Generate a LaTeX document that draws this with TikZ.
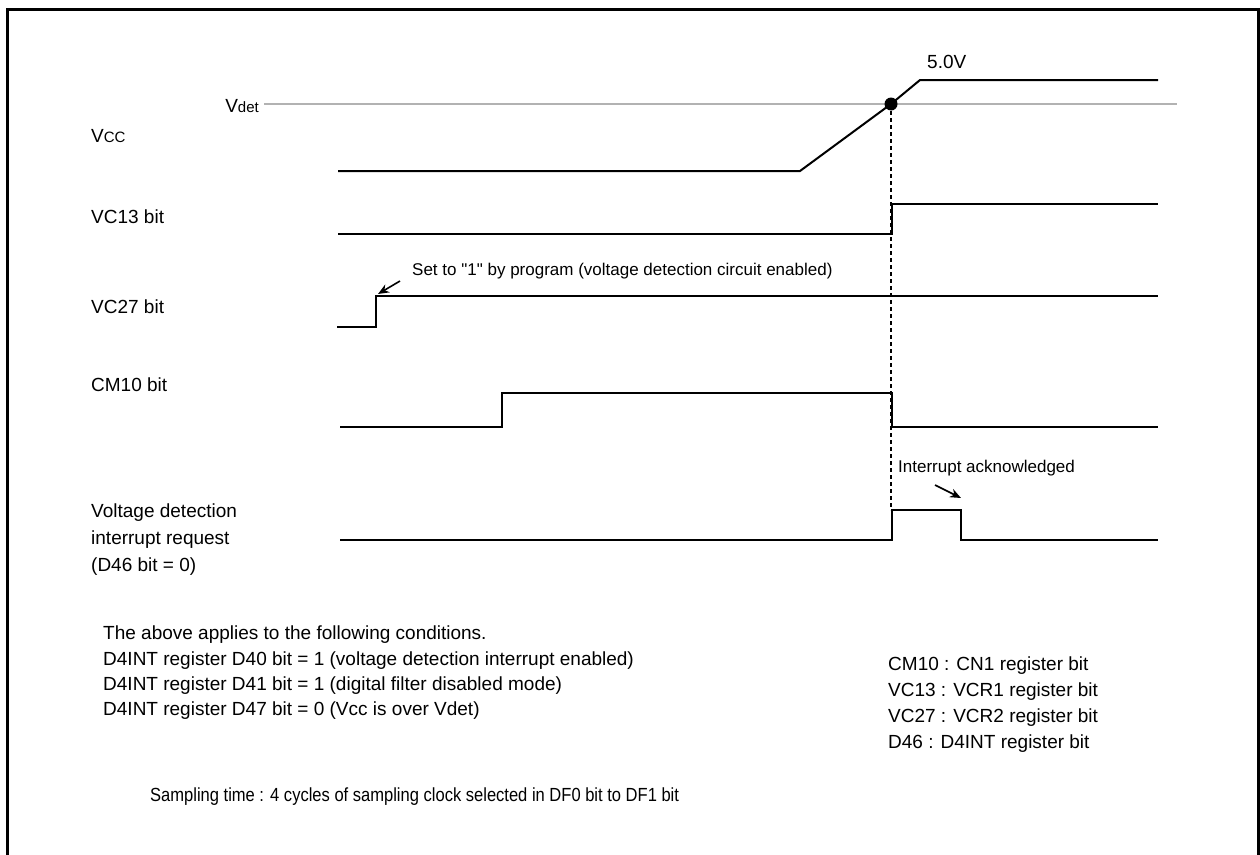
\documentclass[tikz,border=0pt]{standalone}
\usepackage{fontspec}
\setmainfont{Liberation Sans}
\usetikzlibrary{arrows.meta}
\begin{document}
\begin{tikzpicture}[x=1pt,y=-1pt,
  wave/.style={line width=2pt, line join=miter},
  lbl/.style={anchor=base west, inner sep=0pt, font=\fontsize{19}{22}\selectfont},
  note/.style={anchor=base west, inner sep=0pt, font=\fontsize{17}{19}\selectfont},
  pointer/.style={line width=1.6pt, -{Stealth[length=11pt,width=9pt]}}]
\useasboundingbox (0,0) rectangle (1260,854);
% frame
\draw[line width=3pt] (7.5,860) -- (7.5,9.5) -- (1258.5,9.5) -- (1258.5,860);

% signal labels
\node[lbl] (lvcc) at (91,142) {V{\fontsize{15}{16}\selectfont CC}};
\node[lbl] (lvc13) at (91,223) {VC13 bit};
\node[lbl] (lvc27) at (91,313) {VC27 bit};
\node[lbl] (lcm10) at (91,391) {CM10 bit};
\node[lbl] (lint1) at (91,517) {Voltage detection};
\node[lbl] (lint2) at (91,544) {interrupt request};
\node[lbl] (lint3) at (91,571) {(D46 bit = 0)};

% Vdet
\node[lbl, anchor=base east] (lvdet) at (259,112) {V{\fontsize{15}{16}\selectfont det}};
\draw[gray!60, line width=1.5pt] (264,104) -- (1177,104);
\node[lbl] (l5v) at (927,68) {5.0V};

% Vcc waveform
\draw[wave] (338,171) -- (800,171) -- (891,104) -- (920,80) -- (1158,80);
\coordinate (cross) at (891,104);
\fill (cross) circle (6.5pt);

% dashed line
\coordinate (dashend) at (891,510);
\draw[line width=1.2pt, dash pattern=on 4pt off 3pt] (cross) -- (dashend);

% VC13
\draw[wave] (338,234) -- (892,234) -- (892,204) -- (1158,204);

% VC27
\draw[wave] (337,327) -- (376,327) -- (376,296) -- (1158,296);
\node[note] (nset) at (412,275) {Set to \textquotedbl 1\textquotedbl{} by program (voltage detection circuit enabled)};
\coordinate (setA) at (400,281);
\coordinate (setB) at (378,294);
\draw[pointer] (setA) -- (setB);

% CM10
\draw[wave] (340,427) -- (502,427) -- (502,393) -- (892,393) -- (892,427) -- (1158,427);

% Interrupt
\draw[wave] (340,540) -- (892,540) -- (892,510) -- (961,510) -- (961,540) -- (1158,540);
\node[note] (nack) at (898,472) {Interrupt acknowledged};
\coordinate (ackA) at (935,485);
\coordinate (ackB) at (961,498);
\draw[pointer] (ackA) -- (ackB);

% conditions
\node[lbl] (c0) at (103,639) {The above applies to the following conditions.};
\node[lbl] (c1) at (103,665) {D4INT register D40 bit = 1 (voltage detection interrupt enabled)};
\node[lbl] (c2) at (103,690) {D4INT register D41 bit = 1 (digital filter disabled mode)};
\node[lbl] (c3) at (103,715) {D4INT register D47 bit = 0 (Vcc is over Vdet)};

% legend
\node[lbl] (g1) at (888,670) {CM10 : CN1 register bit};
\node[lbl] (g2) at (888,696) {VC13 : VCR1 register bit};
\node[lbl] (g3) at (888,722) {VC27 : VCR2 register bit};
\node[lbl] (g4) at (888,748) {D46 : D4INT register bit};

% sampling
\node[lbl] (samp) at (150,801) {\scalebox{0.87}[1]{Sampling time : 4 cycles of sampling clock selected in DF0 bit to DF1 bit}};
\end{tikzpicture}
\end{document}
